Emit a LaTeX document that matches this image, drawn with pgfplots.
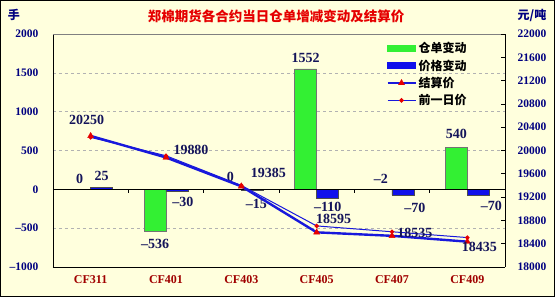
\documentclass[border=0pt]{standalone}
\usepackage{pgfplots}
\pgfplotsset{compat=1.18}
\usepackage{pgfplotstable}
\usepackage{fontspec}
\setmainfont{Liberation Serif}
\newfontfamily\cjk{Noto Sans CJK SC}
\definecolor{bg}{RGB}{255,255,221}
\definecolor{navy}{RGB}{0,0,128}
\definecolor{catred}{RGB}{160,0,0}
\definecolor{gbar}{RGB}{51,240,51}
\definecolor{bbar}{RGB}{16,16,235}
\definecolor{lblue}{RGB}{24,24,220}
\definecolor{tri}{RGB}{230,0,0}
\definecolor{lab}{RGB}{20,20,90}

\pgfplotstableread{
x g glab gxs gys b blab bxs bys
0 0 0 0 10 25 25 0 11
1 -536 –536 0 -13 -30 –30 6 -10
2 0 0 0 12 -15 –15 4 -13
3 1552 1552 0 11 -110 –110 0 -9
4 -2 –2 0 11 -70 –70 12 -13
5 540 540 0 13 -70 –70 13 -11
}\bars

\pgfplotstableread{
x s p lab xs ys
0 20250 20225 20250 -4 16
1 19880 19910 19880 25 8
2 19385 19400 19385 27 13
3 18595 18705 18595 17 13
4 18535 18605 18535 23 3
5 18435 18505 18435 12 -5
}\lines

\begin{document}
\begin{tikzpicture}
\useasboundingbox (0,0) rectangle (555pt,297pt);
\fill[bg] (0,0) rectangle (555pt,297pt);
\draw[black, line width=1pt] (0.5pt,0.5pt) rectangle (554.5pt,296.5pt);

\node[font=\cjk\bfseries\fontsize{13.5}{15}\selectfont, text=red!90!black] at (276pt,281pt) {郑棉期货各合约当日仓单增减变动及结算价};
\node[font=\cjk\bfseries\fontsize{12}{13}\selectfont, text=navy] at (14pt,282pt) {手};
\node[font=\cjk\bfseries\fontsize{12}{13}\selectfont, text=navy] at (532pt,282pt) {元/吨};

\begin{axis}[
  at={(53pt,30pt)}, anchor=south west, scale only axis,
  width=452pt, height=233pt,
  xmin=-0.5, xmax=5.5, ymin=-1000, ymax=2000,
  axis x line*=bottom, axis y line*=left,
  axis line style={black, line width=0.7pt},
  xtick={0,1,2,3,4,5},
  xticklabels={CF311,CF401,CF403,CF405,CF407,CF409},
  xticklabel style={font=\bfseries\fontsize{12}{14}\selectfont, text=catred, yshift=-5pt},
  ytick={-1000,-500,0,500,1000,1500,2000},
  yticklabels={–1000,–500,0,500,1000,1500,2000},
  yticklabel style={font=\bfseries\fontsize{11.5}{13}\selectfont, text=navy, xshift=-11pt},
  major tick length=0pt,
  ymajorgrids, major grid style={gray!60, dash pattern=on 3pt off 3pt},
  clip=false,
]
\addplot[ybar, bar width=22pt, bar shift=0pt, fill=gbar, draw=black!55, line width=0.4pt,
  nodes near coords, point meta=explicit symbolic,
  visualization depends on={\thisrow{gxs} \as \gxs},
  visualization depends on={\thisrow{gys} \as \gys},
  nodes near coords style={anchor=center, xshift=\gxs pt, yshift=\gys pt, font=\bfseries\fontsize{14}{16}\selectfont, text=lab}]
  table[x expr=\thisrow{x}-0.146, y=g, meta=glab]{\bars};
\addplot[ybar, bar width=22pt, bar shift=0pt, fill=bbar, draw=black!70, line width=0.4pt,
  nodes near coords, point meta=explicit symbolic,
  visualization depends on={\thisrow{bxs} \as \bxs},
  visualization depends on={\thisrow{bys} \as \bys},
  nodes near coords style={anchor=center, xshift=\bxs pt, yshift=\bys pt, font=\bfseries\fontsize{14}{16}\selectfont, text=lab}]
  table[x expr=\thisrow{x}+0.146, y=b, meta=blab]{\bars};
\draw[gray, line width=0.7pt] (rel axis cs:0,1) -- (rel axis cs:1,1);
\draw[black, line width=0.7pt] (axis cs:-0.5,0) -- (axis cs:5.5,0);
\draw[black, line width=0.6pt] (axis cs:0.5,0) -- ([yshift=-4pt]axis cs:0.5,0);
\draw[black, line width=0.6pt] (axis cs:1.5,0) -- ([yshift=-4pt]axis cs:1.5,0);
\draw[black, line width=0.6pt] (axis cs:2.5,0) -- ([yshift=-4pt]axis cs:2.5,0);
\draw[black, line width=0.6pt] (axis cs:3.5,0) -- ([yshift=-4pt]axis cs:3.5,0);
\draw[black, line width=0.6pt] (axis cs:4.5,0) -- ([yshift=-4pt]axis cs:4.5,0);
\end{axis}

\begin{axis}[
  at={(53pt,30pt)}, anchor=south west, scale only axis,
  width=452pt, height=233pt,
  xmin=-0.5, xmax=5.5, ymin=18000, ymax=22000,
  axis y line*=right, axis x line=none,
  axis line style={black, line width=0.7pt},
  scaled y ticks=false,
  ytick={18000,18400,18800,19200,19600,20000,20400,20800,21200,21600,22000},
  yticklabels={18000,18400,18800,19200,19600,20000,20400,20800,21200,21600,22000},
  yticklabel style={font=\bfseries\fontsize{11.5}{13}\selectfont, text=navy, xshift=9pt},
  tick align=inside, major tick length=4pt, tick style={black, line width=0.6pt},
  clip=false,
  legend image code/.code={\draw[mark repeat=2,mark phase=2,#1] plot coordinates {(0pt,0pt) (14pt,0pt) (28pt,0pt)};},
  legend style={at={(0.737,0.974)}, anchor=north west, draw=none, fill=none,
    font=\cjk\bfseries\fontsize{12}{13}\selectfont, row sep=1.5pt, inner sep=0pt,
    /tikz/every even column/.append style={column sep=2pt}},
  legend cell align=left,
]
\addlegendimage{legend image code/.code={\fill[gbar] (0pt,-3pt) rectangle (28pt,3pt);}}
\addlegendentry{仓单变动}
\addlegendimage{legend image code/.code={\fill[bbar] (0pt,-3pt) rectangle (28pt,3pt);}}
\addlegendentry{价格变动}
\addplot[lblue, line width=2.4pt, mark=triangle*, mark size=3.6pt,
  mark options={fill=tri, draw=tri, line width=0.3pt, solid},
  nodes near coords, point meta=explicit symbolic,
  visualization depends on={\thisrow{xs} \as \lxs},
  visualization depends on={\thisrow{ys} \as \lys},
  nodes near coords style={anchor=center, xshift=\lxs pt, yshift=\lys pt, font=\bfseries\fontsize{14}{16}\selectfont, text=lab}]
  table[x=x, y=s, meta=lab]{\lines};
\addlegendentry{结算价}
\addplot[lblue, line width=1pt, mark=*, mark size=1.7pt,
  mark options={fill=tri, draw=tri, solid}]
  table[x=x, y=p]{\lines};
\addlegendentry{前一日价}
\end{axis}
\end{tikzpicture}
\end{document}
